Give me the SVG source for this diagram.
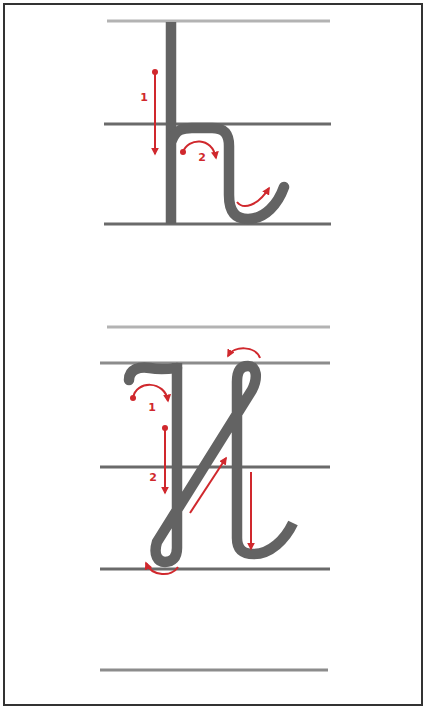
<svg xmlns="http://www.w3.org/2000/svg" width="425" height="708" viewBox="0 0 425 708">
<style>
.gl{stroke-width:3;fill:none}
.light{stroke:#b3b3b3}
.mid{stroke:#8c8c8c}
.dark{stroke:#6a6a6a}
.letter{fill:none;stroke:#636363;stroke-width:10.5;stroke-linecap:round;stroke-linejoin:round}
.red{fill:none;stroke:#d0282d;stroke-width:2}
.lbl{font-family:"DejaVu Sans",Verdana,sans-serif;font-weight:bold;font-size:11px;fill:#d0282d;text-anchor:middle}
</style>
<defs>
<marker id="arr" viewBox="0 0 10 10" refX="8" refY="5" markerWidth="4" markerHeight="4" orient="auto"><path d="M0,0 L10,5 L0,10 z" fill="#d0282d"/></marker>
<marker id="dot" viewBox="0 0 10 10" refX="5" refY="5" markerWidth="3" markerHeight="3"><circle cx="5" cy="5" r="5" fill="#d0282d"/></marker>
</defs>
<rect x="0" y="0" width="425" height="708" fill="#fff"/>
<rect x="4" y="4" width="418" height="701" fill="none" stroke="#333" stroke-width="2"/>
<g id="guides">
<line class="gl light" x1="107" y1="21" x2="330" y2="21"/>
<line class="gl dark" x1="104" y1="124" x2="331" y2="124"/>
<line class="gl dark" x1="104" y1="224" x2="331" y2="224"/>
<line class="gl light" x1="107" y1="327" x2="330" y2="327"/>
<line class="gl mid" x1="100" y1="363" x2="330" y2="363"/>
<line class="gl dark" x1="100" y1="467" x2="330" y2="467"/>
<line class="gl dark" x1="100" y1="569" x2="330" y2="569"/>
<line class="gl mid" x1="100" y1="670" x2="328" y2="670"/>
</g>
<g id="letter-h">
<path class="letter" style="stroke-linecap:butt" d="M171,22 L171,224"/>
<path class="letter" d="M172,140 C176,130 182,128 192,128 L212,128 C224,128 229,134 229,146 L229,195 C229,212 236,219 248,219 C265,219 278,204 284,187"/>
</g>
<g id="letter-i">
<path class="letter" d="M129,380 C129,369 140,366 150,368 C160,370 168,369 177,368"/>
<path class="letter" style="stroke-linecap:butt" d="M177,363 L177,548 C177,558 172,562 165,562 C158,562 153,555 157,542 L252,390 C258,378 257,366 248,366 C240,366 237,372 237,382 L237,538 C237,551 245,554 254,554 C270,554 285,540 293,523"/>
</g>
<g id="connectors">
<path class="red" marker-start="url(#dot)" marker-end="url(#arr)" d="M155,72 L155,154"/>
<path class="red" marker-start="url(#dot)" marker-end="url(#arr)" d="M183,152 C188,138 212,136 216,158"/>
<path class="red" marker-end="url(#arr)" d="M237,202 C243,210 258,206 269,188"/>
<path class="red" marker-start="url(#dot)" marker-end="url(#arr)" d="M133,398 C136,380 165,380 168,401"/>
<path class="red" marker-start="url(#dot)" marker-end="url(#arr)" d="M165,428 L165,493"/>
<path class="red" marker-end="url(#arr)" d="M190,513 L226,458"/>
<path class="red" marker-end="url(#arr)" d="M251,472 L251,549"/>
<path class="red" marker-end="url(#arr)" d="M260,358 C256,346 234,345 228,356"/>
<path class="red" marker-end="url(#arr)" d="M178,567 C172,577 152,577 146,563"/>
</g>
<g id="labels">
<text class="lbl" x="144" y="101">1</text>
<text class="lbl" x="202" y="161">2</text>
<text class="lbl" x="152" y="411">1</text>
<text class="lbl" x="153" y="481">2</text>
</g>
</svg>
